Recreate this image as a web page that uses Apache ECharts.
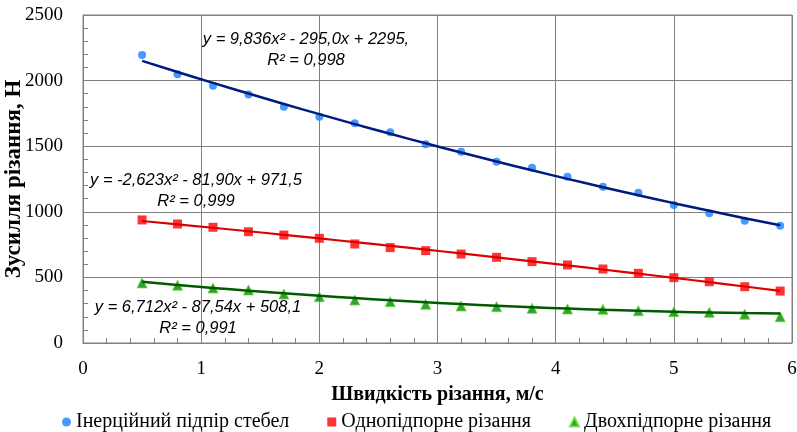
<!DOCTYPE html>
<html>
<head>
<meta charset="utf-8">
<script src="https://cdn.jsdelivr.net/npm/echarts@6/dist/echarts.min.js"></script>
<style>
  html, body { margin: 0; padding: 0; background: #fff; }
  #chart { width: 797px; height: 432px; }
</style>
</head>
<body>
<div id="chart"></div>
<script>
// швидкість різання, м/с
var speeds = [0.5, 0.8, 1.1, 1.4, 1.7, 2.0, 2.3, 2.6, 2.9, 3.2, 3.5, 3.8, 4.1, 4.4, 4.7, 5.0, 5.3, 5.6, 5.9];

// зусилля різання, Н
var inertial = [2195, 2048, 1961, 1895, 1801, 1725, 1675, 1606, 1515, 1458, 1382, 1336, 1268, 1191, 1146, 1052, 988, 932, 894];
var singleSupport = [938, 907, 882, 848, 823, 798, 755, 727, 704, 678, 653, 620, 595, 564, 531, 498, 467, 429, 396];
var doubleSupport = [458, 440, 419, 404, 373, 353, 328, 315, 295, 282, 277, 264, 259, 257, 246, 239, 234, 219, 200];

// коефіцієнти ліній тренду (a, b, c): y = a*x^2 + b*x + c
var fitInertial = [9.836, -295.0, 2295];
var fitSingle = [-2.623, -81.90, 971.5];
var fitDouble = [6.712, -87.54, 508.1];

var seriesNames = ["Інерційний підпір стебел", "Однопідпорне різання", "Двохпідпорне різання"];
var fitLabels = [
  ["y = 9,836x² - 295,0x + 2295,", "R² = 0,998"],
  ["y = -2,623x² - 81,90x + 971,5", "R² = 0,999"],
  ["y = 6,712x² - 87,54x + 508,1", "R² = 0,991"]
];

function pairs(xs, ys) {
  return xs.map(function (x, i) { return [x, ys[i]]; });
}
// лінія тренду в тих самих точках x
function trend(xs, k) {
  return xs.map(function (x) { return [x, k[0] * x * x + k[1] * x + k[2]]; });
}

var serif = "'Liberation Serif', 'Times New Roman', serif";
var sans = "'Liberation Sans', Arial, sans-serif";

var myChart = echarts.init(document.getElementById("chart"));

// підпис рівняння: два рядки по центру
function fitText(lines, cx, cy) {
  return lines.map(function (t, i) {
    return {
      type: "text",
      x: cx,
      y: cy + i * 21,
      z: 10,
      style: {
        text: t,
        font: "italic 16.5px " + sans,
        fill: "#000",
        align: "center",
        verticalAlign: "middle"
      }
    };
  });
}

var option = {
  animation: false,
  grid: {
    left: 83, right: 5, top: 15, bottom: 89,
    containLabel: false, outerBoundsMode: "none",
    show: true, borderColor: "#808080", borderWidth: 1
  },
  legend: {
    data: seriesNames,
    left: 57,
    top: 407,
    itemGap: 38,
    itemWidth: 9,
    itemHeight: 9,
    textStyle: { fontFamily: serif, fontSize: 20, color: "#000" }
  },
  xAxis: {
    type: "value",
    min: 0,
    max: 6,
    interval: 1,
    name: "Швидкість різання, м/с",
    nameLocation: "middle",
    nameGap: 42,
    nameMoveOverlap: false,
    nameTextStyle: { fontFamily: serif, fontSize: 20, fontWeight: "bold", color: "#000" },
    axisLine: { show: true, onZero: false, lineStyle: { color: "#808080" } },
    axisTick: { show: true, inside: true, length: 5, lineStyle: { color: "#808080" } },
    minorTick: { show: true, splitNumber: 5, length: 5, lineStyle: { color: "#808080" } },
    axisLabel: { fontFamily: serif, fontSize: 19, color: "#000", margin: 17 },
    splitLine: { show: true, lineStyle: { color: "#808080", width: 1 } }
  },
  yAxis: {
    type: "value",
    min: 0,
    max: 2500,
    interval: 500,
    name: "Зусилля різання, Н",
    nameLocation: "middle",
    nameGap: 57,
    nameMoveOverlap: false,
    nameTextStyle: { fontFamily: serif, fontSize: 23, fontWeight: "bold", color: "#000" },
    axisLine: { show: true, lineStyle: { color: "#808080" } },
    axisTick: { show: true, inside: true, length: 5, lineStyle: { color: "#808080" } },
    minorTick: { show: true, splitNumber: 5, length: 5, lineStyle: { color: "#808080" } },
    axisLabel: {
      fontFamily: serif, fontSize: 19, color: "#000", margin: 20,
      formatter: function (v) { return String(v); }
    },
    splitLine: { show: true, lineStyle: { color: "#808080", width: 1 } }
  },
  series: [
    {
      name: seriesNames[0], type: "scatter", symbol: "circle", symbolSize: 8,
      itemStyle: { color: "#1a7fff" }, data: pairs(speeds, inertial), z: 2
    },
    {
      name: seriesNames[1], type: "scatter", symbol: "rect", symbolSize: 9,
      itemStyle: { color: "#ff0000" }, data: pairs(speeds, singleSupport), z: 2
    },
    {
      name: seriesNames[2], type: "scatter", symbol: "triangle", symbolSize: 10,
      itemStyle: { color: "#008a00", borderColor: "#66dd33", borderWidth: 1 }, data: pairs(speeds, doubleSupport), z: 2
    },
    {
      type: "line", showSymbol: false, smooth: true, silent: true, z: 3,
      lineStyle: { color: "#001a80", width: 2.5 }, data: trend(speeds, fitInertial)
    },
    {
      type: "line", showSymbol: false, smooth: true, silent: true, z: 3,
      lineStyle: { color: "#dd0000", width: 2.2 }, data: trend(speeds, fitSingle)
    },
    {
      type: "line", showSymbol: false, smooth: true, silent: true, z: 3,
      lineStyle: { color: "#005a00", width: 2.5 }, data: trend(speeds, fitDouble)
    }
  ],
  graphic: [].concat(
    fitText(fitLabels[0], 306, 39),
    fitText(fitLabels[1], 196, 180),
    fitText(fitLabels[2], 198, 307)
  )
};

myChart.setOption(option);
</script>
</body>
</html>
